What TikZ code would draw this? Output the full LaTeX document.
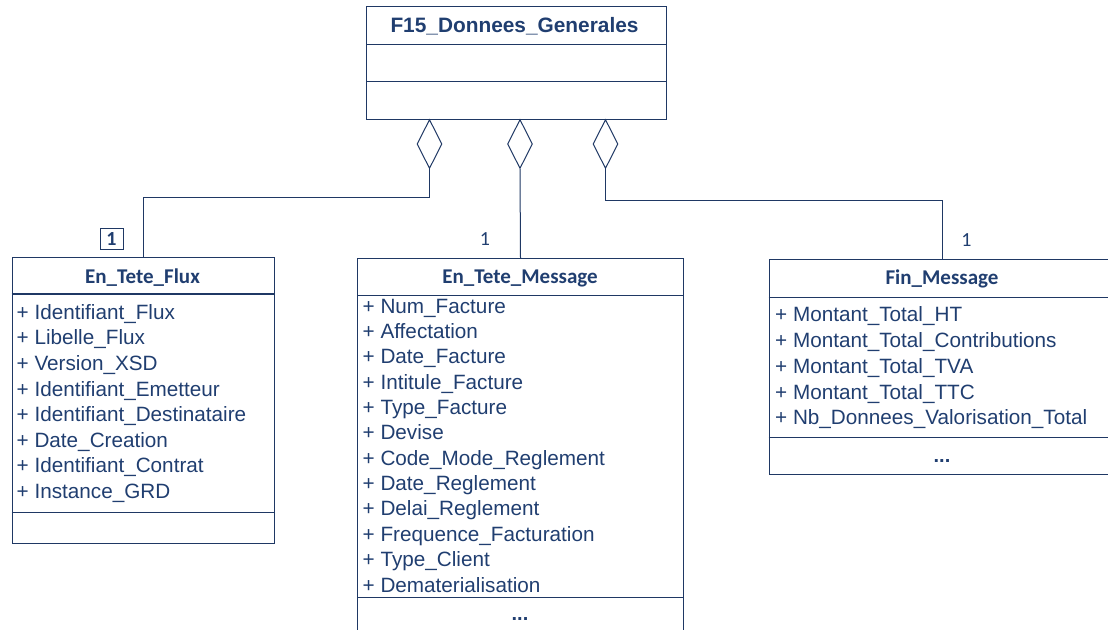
\documentclass[tikz,border=0pt]{standalone}
\usepackage{fontspec}
\setmainfont{Liberation Sans}
\newfontfamily\calib{Carlito}
\usetikzlibrary{shapes.geometric}
\definecolor{umlline}{RGB}{31,56,100}
\definecolor{umltext}{RGB}{32,62,112}
\tikzset{
  classbox/.style={draw=umlline, line width=1pt, rectangle, inner sep=0pt, anchor=north west},
  divider/.style={draw=umlline, line width=1pt},
  agg/.style={draw=umlline, line width=1pt, diamond, inner sep=0pt, minimum width=25pt, minimum height=49pt},
  conn/.style={draw=umlline, line width=1pt},
  attr/.style={text=umltext, inner sep=0pt, anchor=base west, font=\fontsize{20.7}{24}\selectfont},
  ctitle/.style={text=umltext, inner sep=0pt, anchor=base, font=\calib\bfseries\fontsize{21}{24}\selectfont},
  gtitle/.style={text=umltext, inner sep=0pt, anchor=base, font=\bfseries\fontsize{20.85}{24}\selectfont},
  mult/.style={text=umltext, inner sep=0pt, anchor=base, font=\calib\fontsize{20}{24}\selectfont},
  dots/.style={text=umltext, inner sep=0pt, anchor=base, font=\bfseries\fontsize{20}{24}\selectfont},
}
\begin{document}
\begin{tikzpicture}[x=1pt,y=-1pt]
\useasboundingbox (0,0) rectangle (1108,629);
\clip (0,0) rectangle (1108,629);

% top class
\node[classbox, minimum width=300pt, minimum height=113pt] (gen) at (366,6) {};
\draw[divider] ([yshift=-38pt]gen.north west) -- ([yshift=-38pt]gen.north east);
\draw[divider] ([yshift=-75.5pt]gen.north west) -- ([yshift=-75.5pt]gen.north east);
\node[gtitle] (gent) at (514.5,32) {F15\_Donnees\_Generales};

% diamonds
\node[agg, anchor=north] (d1) at (429.5,119) {};
\node[agg, anchor=north] (d2) at (520,119) {};
\node[agg, anchor=north] (d3) at (605.5,119) {};

% En_Tete_Flux
\node[classbox, minimum width=262pt, minimum height=286pt] (flux) at (11.5,257) {};
\draw[divider, line width=2pt] ([yshift=-37pt]flux.north west) -- ([yshift=-37pt]flux.north east);
\draw[divider] ([yshift=-255pt]flux.north west) -- ([yshift=-255pt]flux.north east);
\node[ctitle] (fluxt) at (142.5,283) {En\_Tete\_Flux};
\foreach \t [count=\i] in {Identifiant\_Flux, Libelle\_Flux, Version\_XSD, Identifiant\_Emetteur, Identifiant\_Destinataire, Date\_Creation, Identifiant\_Contrat, Instance\_GRD}
  \node[attr] (fluxa\i) at (16.5,{319.3+25.57*(\i-1)}) {+ \t};

% En_Tete_Message
\node[classbox, minimum width=326pt, minimum height=400pt] (msg) at (357,258) {};
\draw[divider] ([yshift=-37pt]msg.north west) -- ([yshift=-37pt]msg.north east);
\draw[divider] ([yshift=-339pt]msg.north west) -- ([yshift=-339pt]msg.north east);
\node[ctitle] (msgt) at (520,283.5) {En\_Tete\_Message};
\foreach \t [count=\i] in {Num\_Facture, Affectation, Date\_Facture, Intitule\_Facture, Type\_Facture, Devise, Code\_Mode\_Reglement, Date\_Reglement, Delai\_Reglement, Frequence\_Facturation, Type\_Client, Dematerialisation}
  \node[attr] (msga\i) at (362.5,{313+25.37*(\i-1)}) {+ \t};
\node[dots] (msgd) at (520,620) {...};

% Fin_Message
\node[classbox, minimum width=347pt, minimum height=215pt] (fin) at (768.5,258.5) {};
\draw[divider] ([yshift=-38.5pt]fin.north west) -- ([yshift=-38.5pt]fin.north east);
\draw[divider] ([yshift=-178.5pt]fin.north west) -- ([yshift=-178.5pt]fin.north east);
\node[ctitle] (fint) at (942,284) {Fin\_Message};
\foreach \t [count=\i] in {Montant\_Total\_HT, Montant\_Total\_Contributions, Montant\_Total\_TVA, Montant\_Total\_TTC, Nb\_Donnees\_Valorisation\_Total}
  \node[attr] (fina\i) at (775,{321.7+25.8*(\i-1)}) {+ \t};
\node[dots] (find) at (942,462) {...};

% connectors
\draw[conn] (d1.south) -- ++(0,28.5) -| (flux.north);
\draw[conn] (d2.south) -- (msg.north);
\draw[conn] (d3.south) -- ++(0,31) -| (fin.north);

% multiplicities
\node[draw=umlline, line width=1pt, minimum width=23pt, minimum height=21pt, inner sep=0pt] (m1box) at (111.5,239) {};
\node[mult] (m1) at (111.5,245) {\bfseries 1};
\node[mult] (m2) at (485,245) {1};
\node[mult] (m3) at (966.5,246.5) {1};
\end{tikzpicture}
\end{document}
